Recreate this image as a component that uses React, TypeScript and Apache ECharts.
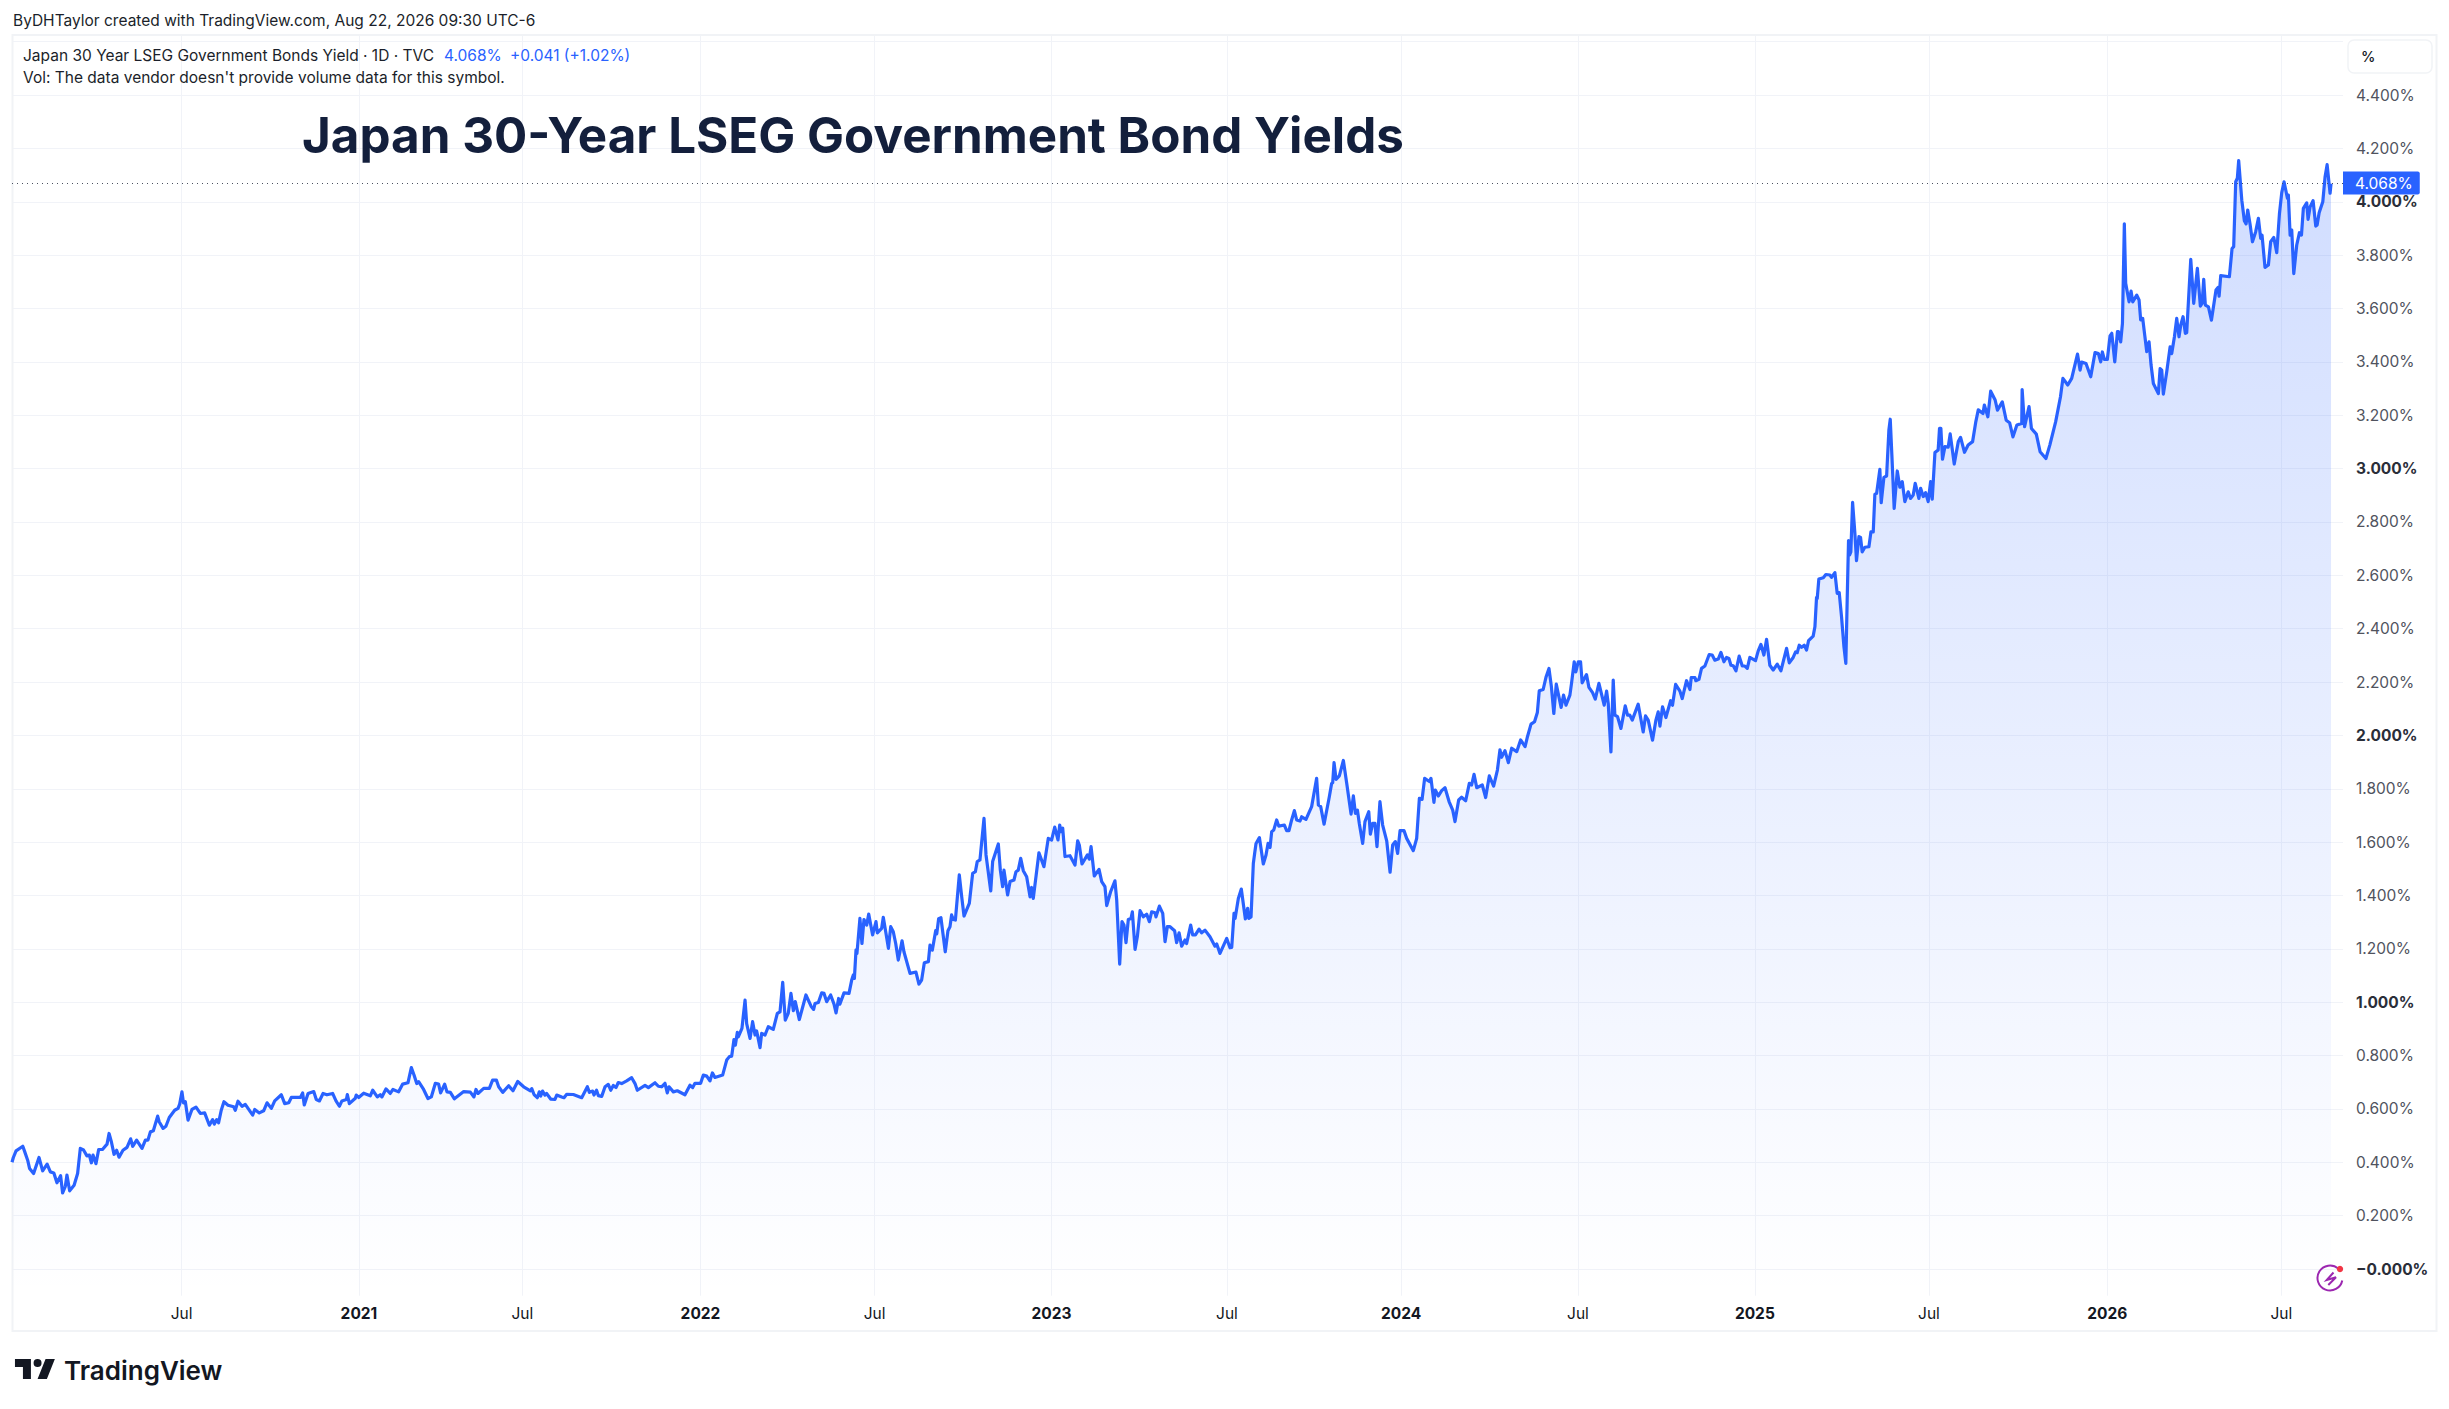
import React, { useEffect, useRef } from "react";
import * as echarts from "echarts";

// Bar number on TradingView's session-based time scale, yield in %.
const readings2020: number[][] = [
  [0,.40],[1,.418],[3,.443],[8,.46],[9.4,.44],[11.6,.408],[13,.377],[16,.358],[20,.418],[22.7,.368],[26,.393],[28.4,.364],[31,.36],[33.3,.323],[36,.35],[37.5,.285],[39.5,.31],[40.7,.352],[42.7,.293],[46,.314],[48.6,.358],[50.6,.452],[53,.446],[55.5,.424],[57.3,.427],[58.8,.398],[60,.427],[62.2,.395],[64.2,.448],[67,.448],[70.4,.468],[71.9,.508],[73.6,.477],[75.6,.43],[77.5,.445],[79.3,.419],[82.2,.445],[85.2,.456],[87.9,.488],[89.4,.46],[92.3,.483],[96.3,.452],[98.8,.483],[100.7,.483],[102.5,.514],[104.7,.518],[107.9,.573],[109,.552],[111.9,.527],[114,.535],[116.5,.568],[120.5,.595],[123,.602],[124.2,.618],[125.9,.664],[127,.623],[128.4,.627],[130.4,.558],[133.3,.598],[136.3,.607],[139.5,.583],[142.7,.585],[146.2,.539],[148.6,.56],[149.9,.543],[151.6,.56],[153,.548],[155,.595],[157,.627],[160,.614],[164.2,.608],[165.4,.595],[167.4,.629],[170.4,.61],[172.8,.617],[178.3,.577],[179.8,.598],[183.2,.585],[186.4,.593],[188.9,.623],[192.1,.602],[194.6,.63],[199.5,.653],[202,.62],[205,.623],[206.9,.643],[213.6,.643],[215.3,.66],[216.5,.615],[219.3,.658],[223.5,.665],[225.4,.635],[227.7,.63],[230.4,.658],[233.3,.653],[237.5,.658],[240,.63],[242.5,.61],[244.4,.63],[247.7,.635],[248.4,.654],[249.9,.62],[254.3,.64],[255,.652],
];
const readings2021: number[][] = [
  [256.8,.643],[260.5,.659],[265.4,.649],[267.2,.67],[270.6,.645],[272.8,.653],[274,.645],[277,.675],[280.2,.658],[282.2,.673],[286.4,.664],[289.4,.693],[293.3,.698],[295.8,.755],[297.8,.727],[299.8,.695],[301.2,.702],[304.9,.673],[308.1,.639],[310.6,.645],[313.6,.696],[316,.693],[317.5,.66],[320.5,.693],[322.2,.664],[324.7,.662],[327.7,.638],[334.6,.665],[339.5,.663],[342.2,.645],[343.7,.673],[345.2,.658],[349.4,.677],[353.6,.677],[356,.708],[358.8,.708],[360.5,.683],[363.5,.662],[367.9,.687],[371.1,.668],[374.6,.703],[379,.683],[384,.668],[385,.676],[386.7,.654],[389.1,.642],[390.6,.664],[391.6,.648],[393,.667],[394.8,.652],[396,.658],[399,.637],[402.2,.636],[403.5,.652],[407.2,.645],[408.9,.642],[410.9,.655],[415.8,.654],[422,.642],[426.2,.683],[427.7,.662],[430.1,.667],[431.1,.652],[433,.67],[434.3,.65],[436.8,.647],[439.3,.683],[441.7,.692],[443.5,.67],[445.4,.688],[447.4,.68],[449.1,.699],[451.6,.695],[455.3,.705],[459,.717],[461.5,.695],[463.2,.67],[468.9,.688],[471.4,.68],[476.3,.698],[478.8,.685],[481.2,.683],[483.7,.696],[485.4,.66],[486.7,.683],[489.9,.664],[492.8,.668],[498.5,.653],[502.2,.689],[504.2,.68],[505.9,.696],
];
const readings2022: number[][] = [
  [510.1,.696],[512.1,.727],[514.6,.723],[517,.705],[518.8,.735],[520.7,.718],[526.4,.727],[529.4,.783],[531.4,.796],[533.1,.798],[534.8,.86],[535.8,.839],[537.3,.887],[538,.87],[540.7,.902],[543,1.008],[544.2,.92],[546.7,.864],[548.6,.927],[550.4,.877],[551.6,.892],[554.1,.83],[555.3,.883],[557.8,.877],[560.2,.908],[563.9,.898],[566.9,.958],[568.9,.964],[570.9,1.074],[572.8,.933],[575,.958],[577,1.033],[578.8,.968],[580.2,1.002],[583.2,.935],[588.1,1.027],[591.9,.985],[593.8,.973],[594.8,.995],[597.3,.999],[599.8,1.035],[601.5,1.033],[603.5,1.002],[606.4,1.027],[608.9,.993],[610.4,.96],[612.3,1.014],[613.3,.993],[616.3,1.035],[620,1.033],[622,1.083],[623.2,1.102],[624,1.089],[625.2,1.196],[625.9,1.183],[628.1,1.314],[629.6,1.22],[631.1,1.31],[633.1,1.289],[634.6,1.33],[637.5,1.252],[640,1.302],[641,1.26],[644.2,1.277],[645.4,1.318],[647.2,1.264],[649.2,1.202],[650.9,1.283],[652.8,1.264],[654.6,1.22],[656.5,1.158],[659.3,1.23],[660.7,1.189],[665.2,1.108],[669.6,1.113],[671.8,1.068],[673.8,1.083],[675.8,1.148],[678.8,1.152],[680,1.214],[681.7,1.195],[684.2,1.268],[685,1.256],[686.4,1.313],[688.1,1.317],[691.3,1.189],[693.3,1.268],[694.8,1.283],[696,1.327],[697.3,1.31],[698.8,1.308],[701.7,1.477],[703.5,1.395],[705.2,1.323],[709.1,1.37],[711.6,1.483],[713.6,1.489],[715,1.527],[717,1.533],[720,1.689],[721.5,1.552],[725,1.417],[726.4,1.527],[730.6,1.593],[732.1,1.495],[733.8,1.433],[734.8,1.495],[737.5,1.402],[739.3,1.452],[742.2,1.458],[743.7,1.489],[745.4,1.495],[747.2,1.539],[749.1,1.493],[751.6,1.47],[754.1,1.395],[755.3,1.43],[756.5,1.389],[760.7,1.56],[764.4,1.508],[767.6,1.614],
];
const readings2023: number[][] = [
  [770.1,1.608],[772.4,1.656],[774.8,1.608],[776.1,1.664],[777,1.639],[778.3,1.652],[780,1.546],[783.7,1.549],[787.4,1.514],[789.4,1.605],[790.6,1.589],[792.6,1.518],[796.6,1.552],[798,1.536],[799.3,1.583],[801.7,1.473],[805.2,1.498],[807.2,1.452],[809.6,1.433],[810.9,1.362],[813.8,1.414],[817,1.455],[818.3,1.383],[820.5,1.143],[822.2,1.302],[823.7,1.289],[825.2,1.223],[826.9,1.31],[828.9,1.314],[829.9,1.339],[831.9,1.198],[833.6,1.246],[835.6,1.343],[838,1.32],[840.5,1.33],[842.5,1.302],[844.2,1.339],[846.7,1.335],[847.4,1.32],[849.9,1.36],[852.4,1.333],[854.1,1.227],[855.8,1.283],[857.8,1.283],[861.2,1.268],[862.7,1.223],[864.5,1.26],[866.4,1.21],[868.9,1.233],[870.1,1.22],[873.1,1.289],[874.6,1.252],[876.6,1.252],[879.3,1.274],[881.2,1.26],[883.7,1.27],[887.4,1.245],[891.1,1.21],[892.4,1.218],[894.8,1.183],[899.8,1.239],[902.2,1.204],[903.5,1.205],[905.2,1.333],[906,1.314],[908.4,1.389],[910.6,1.424],[913.6,1.312],[915.3,1.352],[916.1,1.314],[917.8,1.32],[919.5,1.52],[920.5,1.558],[921.5,1.595],[924,1.617],[926.9,1.518],[928.9,1.552],[930.4,1.595],[931.9,1.58],[933.1,1.639],[934.6,1.645],[936.8,1.683],[938.3,1.66],[942.5,1.664],[944.2,1.643],[945.9,1.643],[947.9,1.683],[949.9,1.718],[951.6,1.683],[954.1,1.679],[955.3,1.695],[958.5,1.685],[962.7,1.733],[966.4,1.839],[967.7,1.739],[969.4,1.733],[971.9,1.667],[975.8,1.77],[977.5,1.82],[978.3,1.823],[979.3,1.898],[980.8,1.835],[983.2,1.848],[986.2,1.906],[988.7,1.82],[991.9,1.705],[993.6,1.773],[995.1,1.708],[996.6,1.72],[998,1.67],[1000.5,1.595],[1002.2,1.677],[1005,1.714],[1006.2,1.63],[1007.9,1.67],[1009.6,1.67],[1011.1,1.583],[1013.3,1.752],[1015.3,1.664],[1018.3,1.605],[1020.8,1.487],[1022.7,1.589],[1024.7,1.602],[1026.4,1.558],
];
const readings2024: number[][] = [
  [1028.2,1.643],[1031.1,1.643],[1033.1,1.614],[1038,1.568],[1040.5,1.614],[1042.5,1.764],[1044.5,1.76],[1046.4,1.839],[1049.9,1.827],[1051.1,1.839],[1053.3,1.749],[1054.3,1.795],[1056.6,1.773],[1059,1.793],[1061.5,1.804],[1064.5,1.752],[1067.2,1.72],[1068.9,1.677],[1071.6,1.758],[1073.8,1.768],[1076.8,1.755],[1079.5,1.82],[1081.2,1.814],[1083,1.854],[1085,1.804],[1089.1,1.814],[1091.6,1.767],[1094.3,1.848],[1097.5,1.81],[1100.3,1.87],[1102.2,1.946],[1103.4,1.918],[1105.9,1.943],[1108.4,1.898],[1110.9,1.952],[1114.6,1.939],[1117.5,1.983],[1120.8,1.958],[1122.4,1.992],[1125.2,2.042],[1127.8,2.051],[1129.9,2.086],[1131.3,2.167],[1134.2,2.172],[1136.4,2.22],[1138.5,2.251],[1140.3,2.182],[1142.1,2.082],[1143.9,2.192],[1147.5,2.105],[1149.3,2.151],[1151.1,2.113],[1154,2.151],[1155.2,2.195],[1157.2,2.276],[1158.4,2.238],[1160.2,2.276],[1161.9,2.276],[1163.1,2.197],[1166.3,2.228],[1168.1,2.18],[1170.8,2.16],[1172.8,2.136],[1175.5,2.195],[1179.4,2.113],[1181.2,2.166],[1182.4,2.12],[1184.4,1.938],[1186.1,2.207],[1187.3,2.076],[1189.3,2.07],[1191.8,2.026],[1195,2.111],[1196.7,2.076],[1198.4,2.076],[1200.2,2.057],[1204.6,2.117],[1208.3,2.013],[1210,2.073],[1212,2.057],[1215.2,1.982],[1217.7,2.057],[1219.4,2.088],[1220.7,2.035],[1222.6,2.107],[1225.1,2.067],[1228.6,2.13],[1230,2.113],[1232.3,2.191],[1235.5,2.166],[1237.2,2.138],[1240.4,2.205],[1242.9,2.172],[1243.9,2.217],[1246.6,2.217],[1247.3,2.205],[1249.6,2.21],[1251.5,2.251],[1254,2.26],[1257.2,2.303],[1259.4,2.301],[1261.4,2.282],[1263.9,2.286],[1265.9,2.311],[1268.1,2.276],[1270,2.292],[1271.8,2.288],[1273.3,2.263],[1275,2.261],[1277,2.242],[1279.4,2.297],[1281.7,2.26],[1283.6,2.26],[1285.4,2.251],[1287.3,2.292],
];
const readings2025: number[][] = [
  [1291.5,2.28],[1293.5,2.317],[1295.5,2.341],[1297.7,2.301],[1299.7,2.36],[1302.1,2.263],[1304.6,2.245],[1307.6,2.267],[1310.3,2.242],[1314.5,2.326],[1316.5,2.272],[1319.4,2.292],[1321.2,2.313],[1322.4,2.31],[1323.9,2.338],[1325.6,2.33],[1327.6,2.338],[1329.3,2.32],[1330.8,2.355],[1334.2,2.372],[1335.5,2.407],[1336.7,2.517],[1337.2,2.513],[1338.4,2.586],[1341.7,2.591],[1343.6,2.603],[1346.6,2.601],[1347.8,2.592],[1350.3,2.61],[1352,2.532],[1353.5,2.535],[1355.2,2.445],[1357,2.332],[1358.4,2.27],[1359.4,2.507],[1360.4,2.73],[1361.2,2.676],[1362.1,2.688],[1363.4,2.873],[1365.1,2.757],[1366.3,2.655],[1368.1,2.745],[1369.3,2.742],[1370.5,2.688],[1372.5,2.705],[1375.5,2.707],[1377,2.763],[1378.7,2.763],[1379.9,2.903],[1381.2,2.907],[1383.6,2.997],[1384.6,2.872],[1386.6,2.967],[1388.6,2.972],[1390.3,3.145],[1391.3,3.185],[1392.5,3.051],[1394.2,2.851],[1396.5,2.991],[1398.4,2.93],[1400.2,2.951],[1402.1,2.876],[1404.6,2.913],[1406.3,2.888],[1408.3,2.901],[1409.8,2.945],[1412.5,2.888],[1413.8,2.926],[1415.7,2.895],[1417.5,2.91],[1419.4,2.876],[1421.2,2.951],[1422.4,2.885],[1424.4,3.06],[1426.8,3.07],[1427.8,3.151],[1428.8,3.151],[1430,3.035],[1431.8,3.082],[1434.2,3.08],[1435.7,3.13],[1438.7,3.017],[1441.7,3.101],[1443.4,3.117],[1446.3,3.061],[1449,3.088],[1452.3,3.101],[1454.7,3.176],[1456.5,3.22],[1460,3.206],[1461,3.238],[1463.6,3.194],[1465.7,3.29],[1469,3.257],[1470.7,3.219],[1474.3,3.25],[1477.2,3.181],[1479.7,3.172],[1482.2,3.119],[1485.1,3.163],[1488.7,3.169],[1489,3.296],[1490.8,3.157],[1494.1,3.232],[1495.9,3.15],[1499.5,3.129],[1502.3,3.063],[1506.6,3.038],[1509.5,3.088],[1513.8,3.175],[1517.4,3.269],[1519.2,3.338],[1522.8,3.313],[1525.7,3.338],[1530,3.429],[1531.9,3.369],[1533.1,3.399],[1536.3,3.394],[1539.8,3.344],[1543,3.435],[1545.5,3.431],[1547.2,3.4],[1548.4,3.437],[1549.9,3.409],
];
const readings2026: number[][] = [
  [1552.1,3.409],[1554.1,3.497],[1555.4,3.507],[1557.6,3.4],[1559.6,3.513],[1560.3,3.513],[1562,3.475],[1563.3,3.544],[1564.7,3.917],[1565.7,3.694],[1568.2,3.625],[1569.7,3.665],[1570.9,3.625],[1573.9,3.65],[1575.6,3.632],[1576.8,3.557],[1578.3,3.563],[1579.8,3.5],[1581.3,3.438],[1583,3.475],[1584.5,3.388],[1586.2,3.319],[1589.9,3.281],[1591.2,3.375],[1592.4,3.369],[1593.6,3.279],[1596.1,3.363],[1598.6,3.456],[1599.8,3.431],[1601.8,3.494],[1603.5,3.563],[1605.2,3.494],[1606.5,3.538],[1608.2,3.569],[1609.9,3.507],[1610.9,3.509],[1613.9,3.784],[1616.1,3.619],[1618.8,3.75],[1621,3.609],[1622.3,3.619],[1623.5,3.709],[1624.7,3.613],[1627,3.606],[1629.2,3.556],[1632.6,3.669],[1634.1,3.679],[1634.9,3.646],[1636.1,3.723],[1642.5,3.719],[1644.5,3.825],[1645.7,3.832],[1647.2,4.075],[1648.4,4.088],[1649.4,4.154],[1651.7,4.006],[1653.6,3.929],[1654.9,3.917],[1656.1,3.969],[1657.8,3.917],[1659.6,3.85],[1662,3.888],[1664,3.938],[1665.7,3.863],[1666.7,3.875],[1668.9,3.754],[1671.4,3.763],[1673.1,3.85],[1675.4,3.866],[1677.6,3.809],[1679.6,3.956],[1681.3,4.034],[1683,4.075],[1685.5,4.013],[1686.2,4.025],[1687.5,3.875],[1688.7,3.894],[1690.2,3.731],[1692.4,3.838],[1694.4,3.884],[1695.9,3.875],[1697.3,3.975],[1699.8,3.996],[1700.8,3.934],[1702.3,3.981],[1704.5,4.004],[1706.5,3.909],[1707.5,3.913],[1709,3.959],[1711.7,4.0],[1713.4,4.094],[1714.9,4.139],[1717.1,4.032],[1717.8,4.068],
];

const timeTicks = [125.6, 257, 378, 510, 639, 770, 900, 1029, 1160, 1291, 1420, 1552, 1681];
const timeTickLabels = ["Jul", "2021", "Jul", "2022", "Jul", "2023", "Jul", "2024", "Jul", "2025", "Jul", "2026", "Jul"];
const yieldGridValues = [0, 0.2, 0.4, 0.6, 0.8, 1, 1.2, 1.4, 1.6, 1.8, 2, 2.2, 2.4, 2.6, 2.8, 3, 3.2, 3.4, 3.6, 3.8, 4, 4.2, 4.4, 4.6];
const yieldLabelValues = yieldGridValues.slice(0, -1);
const lastYield = 4.068;

const AUTHOR_LINE = "ByDHTaylor created with TradingView.com, Aug 22, 2026 09:30 UTC-6";
const LEGEND_SYMBOL = "Japan 30 Year LSEG Government Bonds Yield · 1D · TVC";
const LEGEND_PRICE = "4.068%";
const LEGEND_CHANGE = "+0.041 (+1.02%)";
const LEGEND_VOLUME = "Vol: The data vendor doesn't provide volume data for this symbol.";
const TITLE = "Japan 30-Year LSEG Government Bond Yields";

const BLUE = "#2962ff";
const GRID = "#f1f3f8";
const FONT = "Inter, sans-serif";

echarts.graphic.registerShape(
  "tvLogo",
  echarts.graphic.extendPath("M14 6H2v6h6v9h6V6Zm12 15h-7l6-15h7l-6 15Zm-7-9a3 3 0 1 0 0-6 3 3 0 0 0 0 6Z" as any, {}) as any
);

function text(str: string, x: number, y: number, font: string, fill: string, z = 20) {
  return { type: "text", x, y, z, silent: true, style: { text: str, x: 0, y: 0, font, fill, textVerticalAlign: "middle" } };
}

export default function App() {
  const ref = useRef<HTMLDivElement>(null);
  useEffect(() => {
    document.body.style.margin = "0";
    document.body.style.background = "#fff";
    const chart = echarts.init(ref.current!, undefined, { renderer: "svg" });
    const data = [
      ...readings2020, ...readings2021, ...readings2022, ...readings2023,
      ...readings2024, ...readings2025, ...readings2026,
    ];
    chart.setOption({
      animation: false,
      backgroundColor: "#ffffff",
      textStyle: { fontFamily: FONT },
      grid: { left: 12, top: 35, width: 2331, height: 1260.7, containLabel: false },
      xAxis: {
        type: "value",
        min: 0,
        max: 1726.67,
        axisLine: { show: false },
        axisTick: { show: false, customValues: timeTicks },
        splitLine: { show: true, lineStyle: { color: GRID, width: 1 } },
        axisLabel: {
          customValues: timeTicks,
          margin: 9.5,
          fontSize: 15.5,
          fontFamily: FONT,
          color: "#131722",
          hideOverlap: false,
          formatter: (v: number) => {
            const s = timeTickLabels[timeTicks.indexOf(v)] ?? "";
            return s === "Jul" ? s : `{b|${s}}`;
          },
          rich: { b: { fontSize: 15.5, fontWeight: 700, fontFamily: FONT, color: "#131722" } },
        },
      },
      yAxis: {
        type: "value",
        position: "right",
        min: -0.1,
        max: 4.625,
        axisLine: { show: false },
        axisTick: { show: false, customValues: yieldGridValues },
        splitLine: { show: true, lineStyle: { color: GRID, width: 1 } },
        axisLabel: {
          customValues: yieldLabelValues,
          margin: 13,
          fontSize: 15.5,
          fontFamily: FONT,
          color: "#50535e",
          hideOverlap: false,
          formatter: (v: number) => {
            if (v === 0) return "{b|\u22120.000%}";
            return Number.isInteger(v) ? `{b|${v.toFixed(3)}%}` : `${v.toFixed(3)}%`;
          },
          rich: { b: { fontSize: 15.5, fontWeight: 700, fontFamily: FONT, color: "#2a2e39" } },
        },
      },
      series: [
        {
          type: "line",
          data,
          showSymbol: false,
          symbol: "none",
          lineStyle: { color: BLUE, width: 3.2, join: "round" },
          areaStyle: {
            origin: "start",
            color: new echarts.graphic.LinearGradient(0, 0, 0, 1, [
              { offset: 0, color: "rgba(41,98,255,0.31)" },
              { offset: 1, color: "rgba(41,98,255,0)" },
            ]),
          },
          markLine: {
            silent: true,
            symbol: "none",
            animation: false,
            lineStyle: { color: "#4a5160", type: [1, 4], width: 1 },
            data: [{ yAxis: lastYield }],
            label: {
              show: true,
              position: "end",
              distance: 0,
              formatter: () => "4.068%",
              fontSize: 15.5,
              fontFamily: FONT,
              color: "#ffffff",
              backgroundColor: BLUE,
              padding: [4, 7, 3, 12],
              borderRadius: [0, 2, 2, 0],
            },
          },
        },
      ],
      graphic: [
        { type: "rect", z: 1, silent: true, shape: { x: 12.5, y: 35, width: 2424, height: 1296 }, style: { fill: "none", stroke: "#f1f3f6", lineWidth: 2 } },
        { type: "rect", z: 15, silent: true, shape: { x: 2348, y: 40, width: 84, height: 33, r: 6 }, style: { fill: "#fff", stroke: "#f1f3f6", lineWidth: 1.5 } },
        text("%", 2361, 56.5, `500 14.5px ${FONT}`, "#131722"),
        text(AUTHOR_LINE, 13, 20, `400 15.5px ${FONT}`, "#1b1f2a"),
        text(LEGEND_SYMBOL, 23, 55.5, `400 15.5px ${FONT}`, "#1b1f2a"),
        text(LEGEND_PRICE, 444, 55.5, `400 15.5px ${FONT}`, BLUE),
        text(LEGEND_CHANGE, 510, 55.5, `400 15.5px ${FONT}`, BLUE),
        text(LEGEND_VOLUME, 23, 77.5, `400 15.5px ${FONT}`, "#1b1f2a"),
        text(TITLE, 302, 135, `700 49.35px ${FONT}`, "#131f3c"),
        { type: "tvLogo", x: 12.3, y: 1351, scaleX: 1.33, scaleY: 1.33, z: 20, silent: true, style: { fill: "#131722" } },
        text("TradingView", 64, 1370, `600 26px ${FONT}`, "#131722"),
        { type: "arc", z: 20, silent: true, shape: { cx: 2330, cy: 1278, r: 12.5, startAngle: 0.2, endAngle: Math.PI * 2 - 0.85, clockwise: true }, style: { fill: "none", stroke: "#9c27b0", lineWidth: 2 } },
        { type: "polyline", z: 20, silent: true, shape: { points: [[2333.5, 1272.5], [2326.7, 1280], [2336, 1277.3], [2328.3, 1285]] }, style: { fill: "none", stroke: "#9c27b0", lineWidth: 2 } },
        { type: "circle", z: 21, silent: true, shape: { cx: 2340, cy: 1269, r: 3.2 }, style: { fill: "#f23645" } },
      ],
    });
    return () => chart.dispose();
  }, []);
  return <div ref={ref} style={{ position: "absolute", left: 0, top: 0, width: 2449, height: 1409 }} />;
}
